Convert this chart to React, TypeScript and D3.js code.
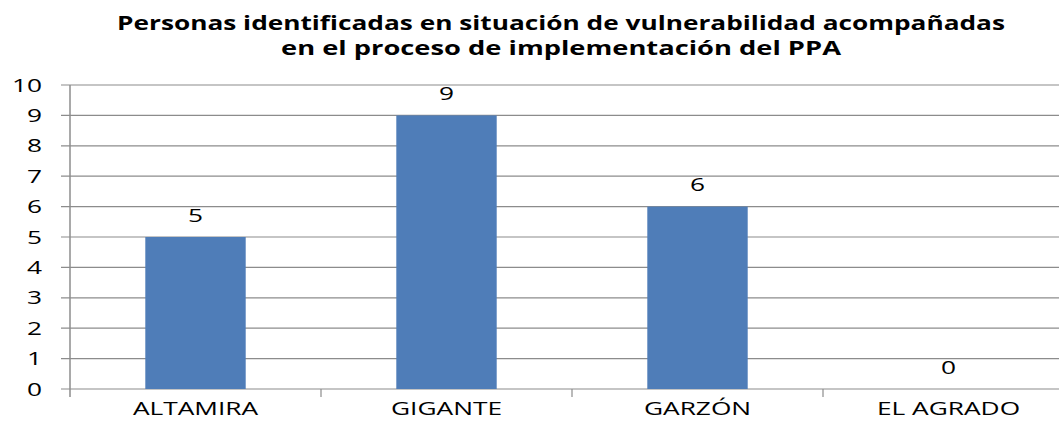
import React, { useRef, useEffect } from "react";
import * as d3 from "d3";

const titleLines = [
  "Personas identificadas en situación de vulnerabilidad  acompañadas",
  "en el proceso de implementación del PPA",
];
const categories = ["ALTAMIRA", "GIGANTE", "GARZÓN", "EL AGRADO"];
const values = [5, 9, 6, 0];
const yTicks = [0, 1, 2, 3, 4, 5, 6, 7, 8, 9, 10];

const W = 1059;
const H = 422;
const FONT = "'Open Sans', 'Noto Sans', sans-serif";
const SX = 1.46; // text in the reference is stretched sideways

const App = () => {
  const svgRef = useRef<SVGSVGElement>(null);

  useEffect(() => {
    const svg = d3.select(svgRef.current);
    svg.selectAll("*").remove();

    const x = d3.scaleBand<string>().domain(categories).range([70, 1074]).padding(0);
    const y = d3.scaleLinear().domain([0, 10]).range([389, 85]);
    const barW = x.bandwidth() * 0.4;

    // stretched label helper
    const label = (px: number, py: number, txt: string | number, anchor: string) => {
      svg.append("g")
        .attr("transform", `translate(${px},${py}) scale(${SX},1)`)
        .append("text")
        .attr("text-anchor", anchor)
        .attr("font-family", FONT)
        .attr("font-size", 18)
        .attr("fill", "#000")
        .text(txt);
    };

    // title
    const titleWidths = [888, 560];
    const titleY = [30, 55];
    titleLines.forEach((t, i) => {
      svg.append("text")
        .attr("x", 561)
        .attr("y", titleY[i])
        .attr("text-anchor", "middle")
        .attr("font-family", FONT)
        .attr("font-weight", "bold")
        .attr("font-size", 20)
        .attr("textLength", titleWidths[i])
        .attr("lengthAdjust", "spacingAndGlyphs")
        .attr("fill", "#000")
        .text(t);
    });

    // gridlines + y ticks
    yTicks.forEach(v => {
      svg.append("line")
        .attr("x1", 61).attr("x2", W)
        .attr("y1", y(v)).attr("y2", y(v))
        .attr("stroke", "#8c8c8c").attr("stroke-width", 1.2);
      label(42, y(v) + 6.5, v, "end");
    });

    // y axis line
    svg.append("line")
      .attr("x1", 70).attr("x2", 70)
      .attr("y1", y(10)).attr("y2", 397)
      .attr("stroke", "#8c8c8c").attr("stroke-width", 1.5);

    // x axis ticks at band boundaries
    categories.slice(1).forEach(c => {
      svg.append("line")
        .attr("x1", x(c)!).attr("x2", x(c)!)
        .attr("y1", y(0)).attr("y2", 397)
        .attr("stroke", "#8c8c8c").attr("stroke-width", 1.2);
    });

    // bars
    svg.append("g").selectAll("rect")
      .data(values)
      .join("rect")
      .attr("x", (_, i) => x(categories[i])! + (x.bandwidth() - barW) / 2)
      .attr("y", d => y(d))
      .attr("width", barW)
      .attr("height", d => y(0) - y(d))
      .attr("fill", "#4f7db8");

    // value labels
    values.forEach((v, i) => {
      label(x(categories[i])! + x.bandwidth() / 2, y(v) - 15.5, v, "middle");
    });

    // category labels
    categories.forEach(c => {
      label(x(c)! + x.bandwidth() / 2, 415, c, "middle");
    });
  }, []);

  return (
    <div style={{ position: "absolute", left: 0, top: 0, width: W, height: H, background: "#fff" }}>
      <svg ref={svgRef} width={W} height={H} style={{ display: "block" }}></svg>
    </div>
  );
};

export default App;
